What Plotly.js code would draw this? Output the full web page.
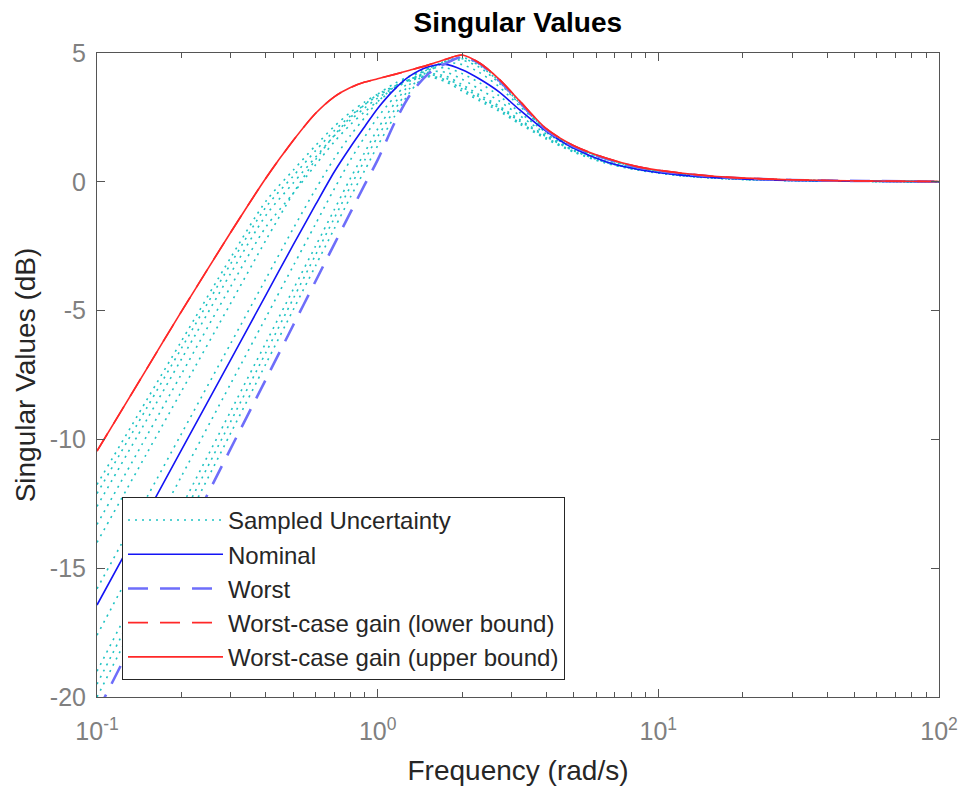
<!DOCTYPE html>
<html>
<head>
<meta charset="utf-8">
<script src="https://cdn.plot.ly/plotly-3.0.1.min.js"></script>
<style>html,body{margin:0;padding:0;background:#fff;}#chart{width:966px;height:789px;}</style>
</head>
<body>
<div id="chart"></div>
<script>
// Frequency grid (rad/s)
var freq = [0.1, 0.15, 0.2, 0.3, 0.4, 0.5, 0.6, 0.7, 0.8, 0.9, 1.0, 1.15, 1.3, 1.5, 1.75, 2.0, 2.3, 2.7, 3.2, 4, 5, 6.5, 8.5, 12, 18, 30, 55, 100];

// Singular values (dB)
var sample1  = [-11.75, -8.49, -6.18, -2.93, -0.75, 0.45, 1.40, 2.15, 2.70, 3.10, 3.40, 3.72, 3.95, 4.08, 3.88, 3.52, 3.15, 2.75, 2.25, 1.65, 1.15, 0.72, 0.45, 0.24, 0.11, 0.05, 0.02, 0.0];
var sample2  = [-12.10, -8.80, -6.46, -3.17, -0.98, 0.22, 1.20, 1.98, 2.56, 3.00, 3.33, 3.70, 3.97, 4.12, 3.95, 3.60, 3.22, 2.82, 2.30, 1.70, 1.18, 0.74, 0.46, 0.24, 0.11, 0.05, 0.02, 0.0];
var sample3  = [-12.60, -9.26, -6.88, -3.54, -1.30, -0.05, 0.95, 1.78, 2.40, 2.87, 3.25, 3.67, 3.98, 4.16, 4.02, 3.68, 3.30, 2.88, 2.36, 1.74, 1.20, 0.76, 0.47, 0.25, 0.12, 0.05, 0.02, 0.0];
var sample4  = [-13.30, -9.89, -7.46, -4.05, -1.75, -0.45, 0.65, 1.55, 2.22, 2.72, 3.12, 3.60, 3.96, 4.20, 4.10, 3.77, 3.38, 2.95, 2.42, 1.78, 1.22, 0.77, 0.48, 0.25, 0.12, 0.05, 0.02, 0.0];
var sample5  = [-14.00, -10.57, -8.13, -4.70, -2.26, -0.45, 0.85, 1.80, 2.50, 3.00, 3.40, 3.82, 4.10, 4.28, 4.25, 3.98, 3.60, 3.15, 2.58, 1.85, 1.26, 0.78, 0.48, 0.26, 0.12, 0.05, 0.02, 0.0];
var sample6  = [-15.80, -12.28, -9.78, -6.26, -3.76, -1.82, -0.30, 0.90, 1.80, 2.50, 3.10, 3.70, 4.10, 4.38, 4.42, 4.20, 3.85, 3.35, 2.70, 1.90, 1.28, 0.79, 0.48, 0.26, 0.12, 0.05, 0.02, 0.0];
var sample7  = [-17.60, -13.99, -11.43, -7.82, -5.26, -3.27, -1.65, -0.28, 0.85, 1.75, 2.50, 3.30, 3.90, 4.38, 4.62, 4.55, 4.25, 3.70, 2.95, 2.00, 1.35, 0.85, 0.52, 0.29, 0.14, 0.06, 0.02, 0.01];
var sample8  = [-19.00, -15.27, -12.62, -8.89, -6.24, -4.18, -2.51, -1.09, 0.14, 1.15, 2.05, 3.05, 3.78, 4.35, 4.68, 4.72, 4.45, 3.85, 3.03, 2.00, 1.36, 0.88, 0.54, 0.31, 0.15, 0.07, 0.03, 0.01];
var sample9  = [-19.50, -15.73, -13.06, -9.29, -6.62, -4.54, -2.85, -1.42, -0.18, 0.85, 1.75, 2.80, 3.62, 4.28, 4.70, 4.78, 4.52, 3.90, 3.06, 2.00, 1.37, 0.89, 0.55, 0.31, 0.15, 0.07, 0.03, 0.01];
var sample10 = [-20.00, -16.22, -13.53, -9.74, -7.06, -4.97, -3.27, -1.83, -0.59, 0.45, 1.40, 2.55, 3.47, 4.22, 4.68, 4.82, 4.57, 3.93, 3.08, 2.00, 1.37, 0.90, 0.56, 0.32, 0.16, 0.07, 0.03, 0.01];
var nominal  = [-16.43, -12.91, -10.41, -6.89, -4.39, -2.45, -0.90, 0.38, 1.35, 2.15, 2.85, 3.60, 4.10, 4.45, 4.56, 4.35, 4.00, 3.50, 2.80, 1.95, 1.30, 0.78, 0.48, 0.26, 0.13, 0.05, 0.02, 0.0];
var worst    = [-20.60, -16.82, -14.13, -10.34, -7.66, -5.57, -3.87, -2.43, -1.19, -0.10, 0.85, 2.30, 3.35, 4.15, 4.60, 4.85, 4.60, 3.95, 3.10, 2.00, 1.37, 0.90, 0.56, 0.32, 0.16, 0.07, 0.03, 0.01];
var wcLower  = [-10.45, -7.28, -5.03, -1.95, 0.15, 1.60, 2.65, 3.30, 3.66, 3.87, 4.00, 4.17, 4.33, 4.52, 4.76, 4.92, 4.62, 4.00, 3.15, 2.05, 1.40, 0.92, 0.58, 0.34, 0.17, 0.08, 0.03, 0.01];
var wcUpper  = [-10.45, -7.28, -5.03, -1.95, 0.15, 1.60, 2.65, 3.30, 3.66, 3.87, 4.00, 4.17, 4.33, 4.52, 4.76, 4.92, 4.62, 4.00, 3.15, 2.05, 1.40, 0.92, 0.58, 0.34, 0.17, 0.08, 0.03, 0.01];

var samples = [sample1, sample2, sample3, sample4, sample5, sample6, sample7, sample8, sample9, sample10];
var legendNames = ["Sampled Uncertainty", "Nominal", "Worst", "Worst-case gain (lower bound)", "Worst-case gain (upper bound)"];
var xTickVals = [0.1, 1, 10, 100];
var xTickText = ["10<sup>-1</sup>", "10<sup>0</sup>", "10<sup>1</sup>", "10<sup>2</sup>"];
var yTickVals = [-20, -15, -10, -5, 0, 5];
var yTickText = ["-20", "-15", "-10", "-5", "0", "5"];
var minorVals = [0.2,0.3,0.4,0.5,0.6,0.7,0.8,0.9,2,3,4,5,6,7,8,9,20,30,40,50,60,70,80,90];

var traces = [];
samples.forEach(function (s, i) {
  traces.push({
    x: freq, y: s, type: 'scatter', mode: 'lines',
    name: legendNames[0], showlegend: i === 0, legendgroup: 'samp',
    line: {color: 'rgb(30,195,195)', width: 1.6, dash: '2px,5px', shape: 'spline', smoothing: 0.8},
    hoverinfo: 'skip'
  });
});
traces.push({x: freq, y: nominal, type: 'scatter', mode: 'lines', name: legendNames[1],
  line: {color: 'rgb(20,20,245)', width: 1.6, shape: 'spline', smoothing: 0.8}});
traces.push({x: freq, y: worst, type: 'scatter', mode: 'lines', name: legendNames[2],
  line: {color: 'rgb(110,110,250)', width: 2.6, dash: '20px,12px', shape: 'spline', smoothing: 0.8}});
traces.push({x: freq, y: wcLower, type: 'scatter', mode: 'lines', name: legendNames[3],
  line: {color: 'rgb(255,40,40)', width: 1.6, dash: '20px,12px', shape: 'spline', smoothing: 0.8}});
traces.push({x: freq, y: wcUpper, type: 'scatter', mode: 'lines', name: legendNames[4],
  line: {color: 'rgb(255,40,40)', width: 1.6, shape: 'spline', smoothing: 0.8}});

var font = 'Liberation Sans, Arial, Helvetica, sans-serif';
var layout = {
  width: 966, height: 789,
  margin: {l: 97, r: 27, t: 53, b: 92},
  paper_bgcolor: '#fff', plot_bgcolor: '#fff',
  font: {family: font, color: '#262626'},
  title: {text: '<b>Singular Values</b>', x: 0.536, xanchor: 'center', y: 0.972, yanchor: 'middle',
          font: {family: font, size: 28, color: '#000'}},
  showlegend: true,
  legend: {x: 0.0297, y: 0.3106, xanchor: 'left', yanchor: 'top', bgcolor: '#fff',
           bordercolor: '#262626', borderwidth: 1, font: {family: font, size: 24, color: '#262626'},
           traceorder: 'normal', itemwidth: 95, tracegroupgap: 0},
  xaxis: {
    type: 'log', range: [-1, 2], showgrid: false, zeroline: false,
    showline: true, linecolor: '#555', linewidth: 1, mirror: 'allticks',
    ticks: 'inside', ticklen: 8, tickcolor: '#555', tickmode: 'array',
    tickvals: xTickVals, ticktext: xTickText,
    tickfont: {family: font, size: 25, color: '#808080'}, ticklabelstandoff: 12,
    minor: {tickmode: 'array', tickvals: minorVals, ticks: 'inside', ticklen: 5, tickcolor: '#555', showgrid: false},
    title: {text: 'Frequency (rad/s)', font: {family: font, size: 28, color: '#262626'}, standoff: 16}
  },
  yaxis: {
    range: [-20, 5], showgrid: false, zeroline: false,
    showline: true, linecolor: '#555', linewidth: 1, mirror: 'allticks',
    ticks: 'inside', ticklen: 8, tickcolor: '#555', tickmode: 'array',
    tickvals: yTickVals, ticktext: yTickText,
    tickfont: {family: font, size: 25, color: '#808080'}, ticklabelstandoff: 5,
    title: {text: 'Singular Values (dB)', font: {family: font, size: 28, color: '#262626'}, standoff: 6}
  }
};
Plotly.newPlot('chart', traces, layout, {displayModeBar: false, staticPlot: true});
</script>
</body>
</html>
